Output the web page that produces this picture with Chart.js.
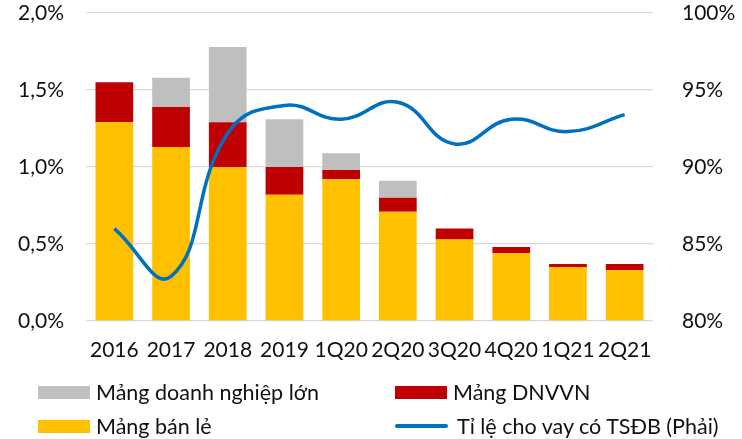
<!DOCTYPE html>
<html lang="vi">
<head>
  <meta charset="UTF-8" />
  <title>Nợ xấu theo mảng</title>
  <script src="https://cdn.jsdelivr.net/npm/chart.js"></script>
  <style>
    body {
      margin: 0;
      background: #fff;
      font-family: 'Lato', sans-serif;
    }
    .wrap {
      position: relative;
      width: 742px;
      height: 439px;
    }
    #legend {
      position: absolute;
      left: 38px;
      top: 375px;
      display: grid;
      grid-template-columns: 357px auto;
      grid-auto-rows: 34px;
      font-size: 21.5px;
      color: #111;
    }
    .item {
      display: flex;
      align-items: center;
      white-space: nowrap;
    }
    .swatch {
      width: 52px;
      height: 13px;
      margin-right: 6px;
    }
    .swatch.line {
      width: 53px;
      height: 4px;
      border-radius: 2px;
      margin-right: 9px;
    }
  </style>
</head>
<body>
  <div class="wrap">
    <canvas id="chart" width="742" height="439"></canvas>
    <div id="legend"></div>
  </div>

  <script>
    // số liệu
    const periods = ['2016', '2017', '2018', '2019', '1Q20', '2Q20', '3Q20', '4Q20', '1Q21', '2Q21'];
    const retail = [1.29, 1.13, 1.00, 0.82, 0.92, 0.71, 0.53, 0.44, 0.35, 0.33];
    const sme = [0.26, 0.26, 0.29, 0.18, 0.06, 0.09, 0.07, 0.04, 0.02, 0.04];
    const corporate = [0, 0.19, 0.49, 0.31, 0.11, 0.11, 0, 0, 0, 0];
    const securedRatio = [86.0, 82.9, 92.2, 94.0, 93.1, 94.2, 91.5, 93.1, 92.3, 93.4];

    const fontBase = { family: 'Lato', size: 21 };
    const gridColor = '#d9d9d9';

    const bar = (label, data, color) => ({
      type: 'bar',
      label: label,
      data: data,
      backgroundColor: color,
      borderWidth: 0,
      yAxisID: 'y',
      categoryPercentage: 1,
      barPercentage: 0.665,
      order: 1
    });

    const ctx = document.getElementById('chart').getContext('2d');
    const chart = new Chart(ctx, {
      data: {
        labels: periods,
        datasets: [
          bar('Mảng bán lẻ', retail, '#FFC000'),
          bar('Mảng DNVVN', sme, '#C00000'),
          bar('Mảng doanh nghiệp lớn', corporate, '#BFBFBF'),
          {
            type: 'line',
            label: 'Tỉ lệ cho vay có TSĐB (Phải)',
            data: securedRatio,
            borderColor: '#0070C0',
            borderWidth: 3.5,
            tension: 0.45,
            pointRadius: 0,
            fill: false,
            yAxisID: 'y1',
            order: 0
          }
        ]
      },
      options: {
        responsive: false,
        animation: false,
        devicePixelRatio: 1,
        layout: { padding: { top: 13, left: 0, right: 0, bottom: 0 } },
        plugins: {
          legend: { display: false },
          tooltip: { enabled: false }
        },
        scales: {
          x: {
            stacked: true,
            grid: { display: false },
            border: { display: false },
            ticks: { color: '#111', font: fontBase, padding: 9, maxRotation: 0 },
            afterFit: s => { s.height = 118; s.paddingLeft = 0; s.paddingRight = 0; }
          },
          y: {
            stacked: true,
            position: 'left',
            min: 0,
            max: 2,
            grid: { color: gridColor, lineWidth: 1.3, drawTicks: false },
            border: { display: false },
            ticks: {
              stepSize: 0.5,
              padding: 22,
              color: '#111',
              font: fontBase,
              callback: v => v.toFixed(1).replace('.', ',') + '%'
            },
            afterFit: s => { s.width = 86; s.paddingTop = 0; s.paddingBottom = 0; }
          },
          y1: {
            position: 'right',
            min: 80,
            max: 100,
            grid: { display: false },
            border: { display: false },
            ticks: {
              stepSize: 5,
              padding: 21,
              color: '#111',
              font: fontBase,
              callback: v => v + '%'
            },
            afterFit: s => { s.width = 89; s.paddingTop = 0; s.paddingBottom = 0; }
          }
        }
      }
    });

    // chú thích 2 cột như bản gốc
    const legendOrder = [2, 1, 0, 3];
    const legendDiv = document.getElementById('legend');
    legendOrder.forEach(i => {
      const ds = chart.data.datasets[i];
      const item = document.createElement('div');
      item.className = 'item';
      const sw = document.createElement('span');
      sw.className = ds.type === 'line' ? 'swatch line' : 'swatch';
      sw.style.background = ds.type === 'line' ? ds.borderColor : ds.backgroundColor;
      const txt = document.createElement('span');
      txt.textContent = ds.label;
      item.appendChild(sw);
      item.appendChild(txt);
      legendDiv.appendChild(item);
    });
  </script>
</body>
</html>
